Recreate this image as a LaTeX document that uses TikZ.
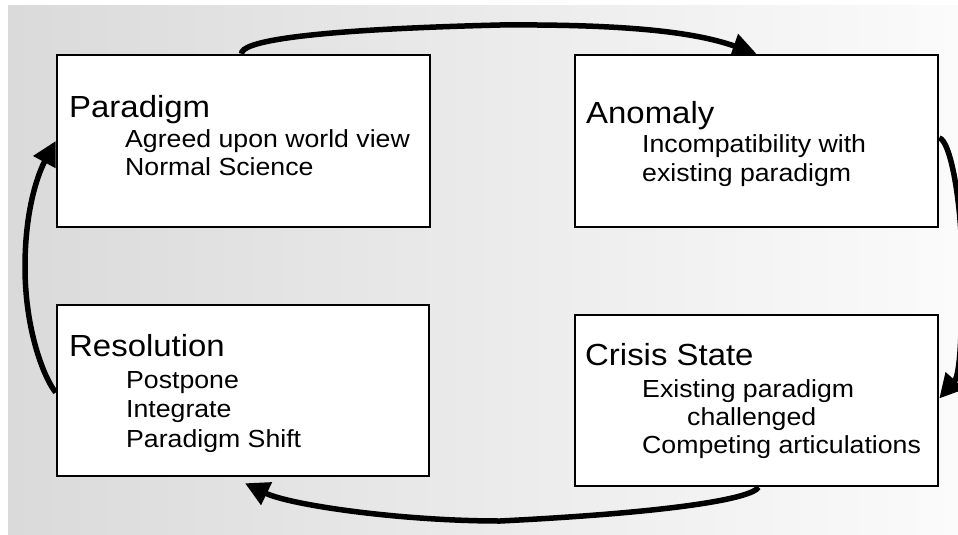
\documentclass[tikz,border=0pt]{standalone}
\usepackage{fontspec}
\setmainfont{Liberation Sans}[FakeStretch=1.08]
\usetikzlibrary{arrows.meta,calc}
\pgfdeclarelayer{bg}
\pgfsetlayers{bg,main}
\definecolor{bgl}{RGB}{218,218,218}
\definecolor{bgr}{RGB}{251,251,251}
\begin{document}
\begin{tikzpicture}[x=1pt,y=-1pt,
  box/.style={draw=black, line width=2.5pt, fill=white, rectangle, inner sep=0pt},
  ttl/.style={anchor=base west, inner sep=0pt, font=\fontsize{30.5}{32}\selectfont},
  sub/.style={anchor=base west, inner sep=0pt, font=\fontsize{24.7}{27}\selectfont},
  conn/.style={line width=5.5pt, -{Triangle[length=24pt,width=24pt]}}]
\useasboundingbox (0,0) rectangle (958,535);
% boxes
\node[box, minimum width=373pt, minimum height=172pt] (paradigm) at (243.5,141) {};
\node[box, minimum width=363pt, minimum height=172pt] (anomaly) at (756.5,141) {};
\node[box, minimum width=372pt, minimum height=171pt] (resolution) at (243,390.5) {};
\node[box, minimum width=363pt, minimum height=171pt] (crisis) at (756.5,400.5) {};
% texts
\node[ttl] (pt) at (69,117) {Paradigm};
\node[sub] (p1) at (125,147) {Agreed upon world view};
\node[sub] (p2) at (125,175) {Normal Science};
\node[ttl] (at) at (586,123) {Anomaly};
\node[sub] (a1) at (642,152) {Incompatibility with};
\node[sub] (a2) at (642,181) {existing paradigm};
\node[ttl] (rt) at (69,356) {Resolution};
\node[sub] (r1) at (126,388) {Postpone};
\node[sub] (r2) at (126,417) {Integrate};
\node[sub] (r3) at (126,447) {Paradigm Shift};
\node[ttl] (ct) at (585,365) {Crisis State};
\node[sub] (c1) at (642,397) {Existing paradigm};
\node[sub] (c2) at (687,425) {challenged};
\node[sub] (c3) at (642,453) {Competing articulations};
\begin{pgfonlayer}{bg}
\shade[left color=bgl, right color=bgr] (8,6) rectangle (958,535);
% top
\draw[conn] ($(paradigm.north)+(-2,0)$) .. controls (241,42) and (300,30) .. (500,25)
  .. controls (640,24) and (700,34) .. (anomaly.north);
% right
\draw[conn] ($(anomaly.east)+(0,-3)$) .. controls (950,140) and (962,200) .. (962,268)
  .. controls (962,335) and (960,375) .. ($(crisis.east)+(0,-2)$);
% bottom
\draw[conn] ($(crisis.south)+(2,0)$) .. controls (752,498) and (680,512) .. (500,521)
  .. controls (400,521) and (290,505) .. ($(resolution.south)+(2,6)$);
% left
\draw[conn] ($(resolution.west)+(0,2)$) .. controls (44,378) and (25,330) .. (25,267)
  .. controls (25,205) and (40,170) .. (paradigm.west);
\end{pgfonlayer}
\end{tikzpicture}
\end{document}
